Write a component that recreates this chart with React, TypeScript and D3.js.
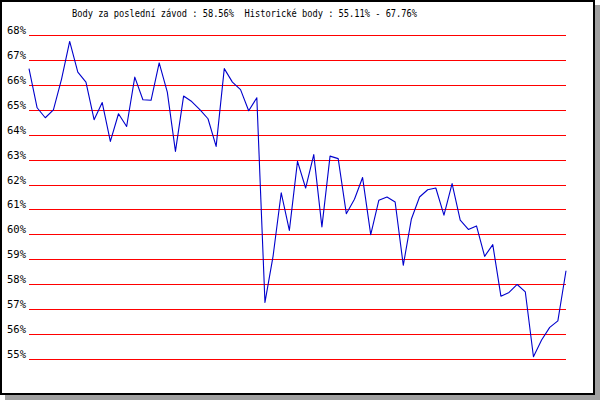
import React from "react";
import * as d3 from "d3";

const TITLE = "Body za poslední závod : 58.56%  Historické body : 55.11% - 67.76%";
const TICKS = [55, 56, 57, 58, 59, 60, 61, 62, 63, 64, 65, 66, 67, 68];
const VALUES = [
  66.67, 65.1, 64.7, 65.02, 66.25, 67.76, 66.53, 66.13, 64.62, 65.31,
  63.75, 64.86, 64.35, 66.33, 65.42, 65.4, 66.9, 65.73, 63.35, 65.57,
  65.35, 65.03, 64.66, 63.55, 66.67, 66.13, 65.83, 64.98, 65.5, 57.29,
  59.15, 61.69, 60.18, 62.95, 61.88, 63.22, 60.32, 63.16, 63.06, 60.85,
  61.43, 62.3, 60.01, 61.39, 61.52, 61.32, 58.78, 60.64, 61.52, 61.81,
  61.88, 60.79, 62.06, 60.59, 60.22, 60.36, 59.14, 59.61, 57.54, 57.69,
  58.01, 57.71, 55.11, 55.78, 56.29, 56.55, 58.56,
];

export default function App() {
  const W = 600;
  const H = 400;
  const x = d3.scaleLinear().domain([0, VALUES.length - 1]).range([29, 566]);
  const y = d3.scaleLinear().domain([55, 68]).range([359.5, 35.5]);
  const line = d3
    .line<number>()
    .x((_, i) => x(i))
    .y((d) => y(d));
  const font = "'DejaVu Sans Mono', monospace";
  return (
    <svg
      width={W}
      height={H}
      style={{ position: "absolute", left: 0, top: 0, background: "#fff" }}
    >
      <rect x={5} y={5} width={595} height={395} fill="#a0a0a0" />
      <rect x={1} y={1} width={593} height={393} fill="#fff" stroke="#000" strokeWidth={2} />
      <text
        x={72}
        y={17}
        fontFamily={font}
        fontSize={10.5}
        fill="#000"
        textLength={345}
        lengthAdjust="spacingAndGlyphs"
        style={{ whiteSpace: "pre" }}
      >
        {TITLE}
      </text>
      {TICKS.map((t) => (
        <g key={t}>
          <line
            x1={29}
            x2={566}
            y1={Math.floor(y(t)) + 0.5}
            y2={Math.floor(y(t)) + 0.5}
            stroke="#ff0000"
            strokeWidth={1}
            shapeRendering="crispEdges"
          />
          <text
            x={26}
            y={Math.floor(y(t)) - 1.5}
            textAnchor="end"
            fontFamily={font}
            fontSize={10.5}
            fill="#000"
            textLength={19}
            lengthAdjust="spacingAndGlyphs"
          >
            {t}%
          </text>
        </g>
      ))}
      <path
        d={line(VALUES) || ""}
        fill="none"
        stroke="#0000cc"
        strokeWidth={1.1}
        strokeLinejoin="round"
      />
    </svg>
  );
}
